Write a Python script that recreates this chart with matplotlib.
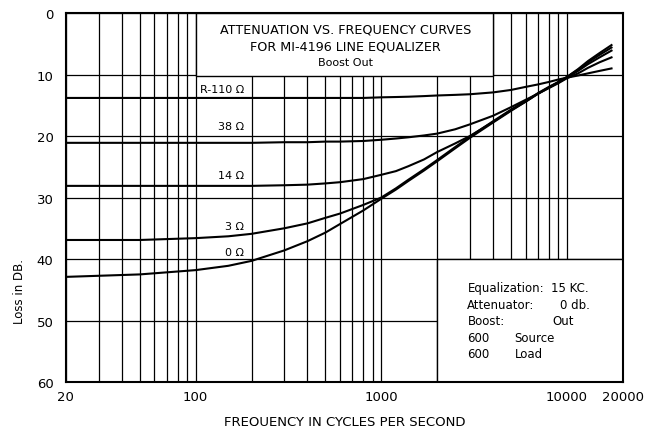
import matplotlib
matplotlib.use("Agg")
import matplotlib.pyplot as plt
from matplotlib.patches import Rectangle
from matplotlib.ticker import NullFormatter, FixedLocator

plt.rcParams['font.family'] = ['DejaVu Sans']

# fréquences communes (Hz)
freq = [20, 50, 100, 150, 200, 300, 400, 500, 600, 800, 1000, 1200, 1400, 1700,
        2000, 2500, 3000, 4000, 5000, 6000, 7000, 8000, 9000, 10000, 11500,
        13000, 15000, 17400]

# pertes (dB)
loss_r110 = [13.8, 13.8, 13.8, 13.8, 13.8, 13.8, 13.8, 13.8, 13.8, 13.8, 13.7,
             13.65, 13.6, 13.5, 13.4, 13.3, 13.2, 12.9, 12.5, 12.0, 11.6, 11.2,
             10.8, 10.5, 10.15, 9.8, 9.4, 9.0]
loss_38 = [21.1, 21.1, 21.1, 21.1, 21.1, 21.0, 21.0, 20.9, 20.9, 20.8, 20.6,
           20.4, 20.2, 19.9, 19.6, 18.9, 18.1, 16.7, 15.3, 14.1, 13.1, 12.2,
           11.4, 10.6, 9.8, 8.9, 8.0, 7.2]
loss_14 = [28.1, 28.1, 28.1, 28.1, 28.1, 28.0, 27.9, 27.7, 27.5, 27.0, 26.3,
           25.7, 24.9, 23.8, 22.6, 21.2, 20.0, 17.7, 15.8, 14.4, 13.1, 12.1,
           11.3, 10.5, 9.4, 8.3, 7.2, 6.1]
loss_3 = [36.9, 36.9, 36.6, 36.3, 35.9, 35.0, 34.2, 33.3, 32.6, 31.2, 30.0,
          28.5, 27.1, 25.4, 23.9, 21.8, 20.1, 17.6, 15.7, 14.3, 13.0, 12.0,
          11.2, 10.4, 9.2, 8.0, 6.8, 5.6]
loss_0 = [42.9, 42.5, 41.8, 41.1, 40.3, 38.6, 37.1, 35.7, 34.3, 32.1, 30.2,
          28.7, 27.3, 25.6, 24.1, 22.0, 20.3, 17.8, 15.9, 14.4, 13.1, 12.1,
          11.2, 10.4, 9.1, 7.8, 6.5, 5.2]

curves = [loss_r110, loss_38, loss_14, loss_3, loss_0]
curve_labels = ['R-110 Ω', '38 Ω', '14 Ω', '3 Ω', '0 Ω']
label_y = [12.4, 18.4, 26.3, 34.6, 38.9]

x_ticks = [20, 100, 1000, 10000, 20000]
x_ticklabels = ['20', '100', '1000', '10000', '20000']
y_ticks = [0, 10, 20, 30, 40, 50, 60]

title_lines = ['ATTENUATION VS. FREQUENCY CURVES', 'FOR MI-4196 LINE EQUALIZER', 'Boost Out']
info_left = ['Equalization:', 'Attenuator:', 'Boost:', '600', '600']
info_right = ['15 KC.', '0 db.', 'Out', 'Source', 'Load']

fig = plt.figure(figsize=(6.46, 4.27), dpi=100)
ax = fig.add_axes([0.102, 0.103, 0.862, 0.864])
ax.set_xscale('log')
ax.set_xlim(20, 20000)
ax.set_ylim(60, 0)

ax.xaxis.set_major_locator(FixedLocator(x_ticks))
ax.set_xticklabels(x_ticklabels)
ax.xaxis.set_minor_formatter(NullFormatter())
ax.set_yticks(y_ticks)
ax.tick_params(which='both', length=0, labelsize=9.5, colors='black')
ax.tick_params(axis='x', pad=6)
ax.tick_params(axis='y', pad=9)

ax.grid(which='both', axis='x', color='black', linewidth=0.9, zorder=1)
ax.grid(which='major', axis='y', color='black', linewidth=0.9, zorder=1)
ax.set_axisbelow(True)
for s in ax.spines.values():
    s.set_linewidth(1.5)

# cadres blancs (titre et conditions)
ax.add_patch(Rectangle((100, 0), 3900, 10.3, facecolor='white', edgecolor='black',
                       linewidth=1.0, zorder=2))
ax.add_patch(Rectangle((2000, 40), 18000, 20, facecolor='white', edgecolor='black',
                       linewidth=1.0, zorder=2))

for loss in curves:
    ax.plot(freq, loss, color='black', linewidth=1.5, zorder=3)
for lab, yy in zip(curve_labels, label_y):
    ax.text(182, yy, lab, ha='right', va='center', fontsize=8, zorder=4)

title_y = [2.6, 5.4, 8.0]
for i, t in enumerate(title_lines):
    ax.text(640, title_y[i], t, ha='center', va='center',
            fontsize=9.2 if i < 2 else 8, zorder=4)

rows_y = [0.255, 0.2095, 0.166, 0.122, 0.076]
right_x = [0.871, 0.887, 0.874, 0.806, 0.806]
for i in range(5):
    ax.text(0.721, rows_y[i], info_left[i], transform=ax.transAxes,
            ha='left', va='center', fontsize=8.5, zorder=4)
    ax.text(right_x[i], rows_y[i], info_right[i], transform=ax.transAxes,
            ha='left', va='center', fontsize=8.5, zorder=4)

ax.set_xlabel('FREQUENCY IN CYCLES PER SECOND', fontsize=9.5, labelpad=8)
ax.set_ylabel('Loss in DB.', fontsize=8.5)
ax.yaxis.set_label_coords(-0.072, 0.247)

fig.savefig('out.png', dpi=100)
